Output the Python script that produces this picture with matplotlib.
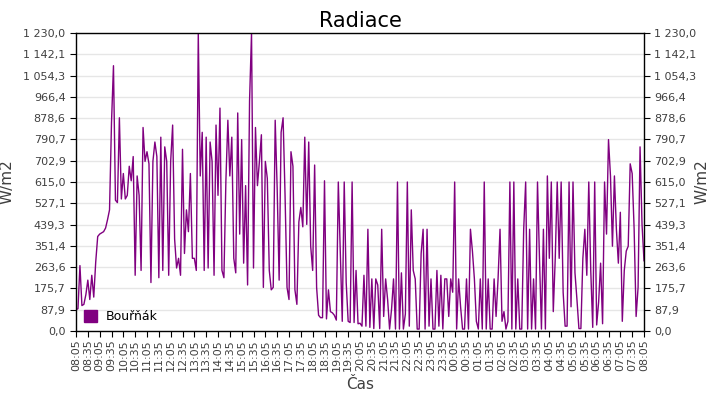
import numpy as np
import matplotlib
matplotlib.use("Agg")
from matplotlib import pyplot as plt
from matplotlib.patches import Patch

# radiation readings, one every 5 minutes from 08:05 to 08:05 next day
radiation = [
    88, 92, 270, 105, 110, 150,
    210, 130, 230, 140, 285, 390,
    400, 405, 410, 425, 460, 500,
    860, 1095, 540, 530, 880, 545,
    650, 545, 560, 680, 620, 720,
    230, 640, 560, 250, 840, 700,
    740, 690, 200, 700, 780, 720,
    220, 800, 250, 760, 700, 230,
    700, 850, 380, 260, 300, 230,
    750, 320, 500, 410, 650, 300,
    300, 250, 1230, 640, 820, 250,
    800, 260, 780, 700, 230, 850,
    560, 920, 250, 220, 620, 870,
    640, 800, 300, 240, 900, 400,
    790, 280, 600, 190, 950, 1230,
    260, 840, 600, 700, 810, 180,
    700, 630, 250, 170, 180, 870,
    590, 210, 820, 880, 560, 180,
    130, 740, 680, 170, 110, 450,
    510, 430, 800, 440, 780, 350,
    250, 685, 180, 65, 55, 55,
    620, 50, 170, 80, 75, 65,
    45, 615, 330, 40, 615, 200,
    40, 35, 615, 35, 250, 30,
    32, 20, 230, 20, 420, 15,
    215, 10, 215, 190, 10, 420,
    60, 215, 130, 8, 90, 215,
    8, 615, 8, 240, 8, 70,
    615, 20, 500, 250, 215, 8,
    8, 320, 420, 8, 420, 20,
    215, 8, 8, 250, 20, 230,
    8, 215, 215, 60, 215, 160,
    615, 8, 215, 100, 8, 8,
    215, 8, 420, 330, 215, 40,
    8, 215, 8, 615, 8, 215,
    8, 8, 215, 60, 215, 420,
    40, 80, 8, 40, 615, 8,
    615, 8, 215, 8, 8, 420,
    615, 8, 420, 8, 215, 8,
    615, 300, 8, 420, 8, 640,
    300, 615, 80, 300, 615, 300,
    615, 160, 20, 20, 615, 100,
    615, 240, 130, 10, 10, 300,
    420, 230, 615, 250, 15, 615,
    25, 120, 280, 30, 615, 400,
    790, 640, 350, 640, 420, 280,
    490, 40, 250, 330, 350, 690,
    650, 420, 60, 180, 760, 440,
    290,
]
step_min = 5

time_labels = [
    "08:05", "08:35", "09:05", "09:35", "10:05", "10:35", "11:05", "11:35",
    "12:05", "12:35", "13:05", "13:35", "14:05", "14:35", "15:05", "15:35",
    "16:05", "16:35", "17:05", "17:35", "18:05", "18:35", "19:05", "19:35",
    "20:05", "20:35", "21:05", "21:35", "22:05", "22:35", "23:05", "23:35",
    "00:05", "00:35", "01:05", "01:35", "02:05", "02:35", "03:05", "03:35",
    "04:05", "04:35", "05:05", "05:35", "06:05", "06:35", "07:05", "07:35",
    "08:05",
]
y_labels = [
    "0,0", "87,9", "175,7", "263,6", "351,4", "439,3", "527,1", "615,0",
    "702,9", "790,7", "878,6", "966,4", "1 054,3", "1 142,1", "1 230,0",
]
y_max = 1230.0
series_name = "Bouřňák"

color = "#800080"
label_color = "#404040"

minutes = np.arange(len(radiation)) * step_min
x_ticks = np.arange(len(time_labels)) * 30
y_ticks = np.linspace(0, y_max, len(y_labels))

fig = plt.figure(figsize=(7.2, 4.0), dpi=100)
ax = fig.add_axes([76 / 720, 1 - 331 / 400, 568 / 720, 298 / 400])

ax.plot(minutes, radiation, color=color, lw=1.0)

ax.set_xlim(0, minutes[-1])
ax.set_ylim(0, y_max)
ax.set_xticks(x_ticks)
ax.set_xticklabels(time_labels, rotation=90, fontsize=8, color=label_color)
ax.set_yticks(y_ticks)
ax.set_yticklabels(y_labels, fontsize=8, color=label_color)
ax.tick_params(axis="y", which="both", left=True, right=True,
               labelleft=True, labelright=True, length=4, direction="out")
ax.tick_params(axis="x", length=4, direction="out", pad=2)
ax.grid(axis="y", color="#e6e6e6", lw=1)
ax.set_axisbelow(True)
for s in ax.spines.values():
    s.set_color("black")
    s.set_linewidth(1)

ax.set_title("Radiace", fontsize=15, pad=4)
ax.set_xlabel("Čas", fontsize=11, color=label_color, labelpad=4)
ax.set_ylabel("W/m2", fontsize=11, color=label_color, labelpad=6)
fig.text(702 / 720, 1 - 182 / 400, "W/m2", rotation=90, fontsize=11,
         color=label_color, ha="center", va="center")

ax.legend(handles=[Patch(color=color, label=series_name)], loc="lower left",
          frameon=False, fontsize=9, handlelength=1.1, handleheight=1.1,
          borderaxespad=0.2, handletextpad=0.7)

fig.savefig("out.png", dpi=100)
